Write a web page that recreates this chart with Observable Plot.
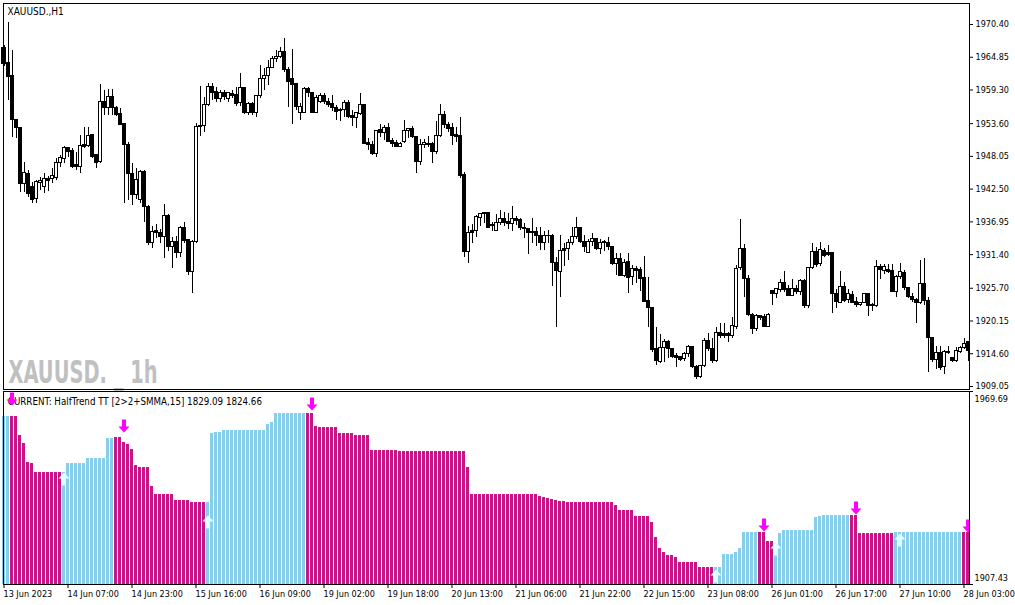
<!DOCTYPE html>
<html>
<head>
<meta charset="utf-8">
<script src="https://cdn.jsdelivr.net/npm/d3@7"></script>
<script src="https://cdn.jsdelivr.net/npm/@observablehq/plot@0.6"></script>
<style>
  html, body { margin: 0; padding: 0; background: #ffffff; }
  #chart svg { display: block; }
</style>
</head>
<body>
<div id="chart"></div>
<script>
// ---------- DATA ----------
const symbolTitle = "XAUUSD.,H1";
const watermark = "XAUUSD. _ 1h";
const indicatorTitle = "CURRENT: HalfTrend TT [2>2+SMMA,15] 1829.09 1824.66";

const timeLabels = ["13 Jun 2023","14 Jun 07:00","14 Jun 23:00","15 Jun 16:00","16 Jun 09:00","19 Jun 02:00",
  "19 Jun 18:00","20 Jun 13:00","21 Jun 06:00","21 Jun 22:00","22 Jun 15:00","23 Jun 08:00",
  "26 Jun 01:00","26 Jun 17:00","27 Jun 10:00","28 Jun 03:00"];
const timeLabelBars = [0,16,32,48,64,80,96,112,128,144,160,176,192,208,224,240];

const priceTicks = [1970.40,1964.85,1959.30,1953.60,1948.05,1942.50,1936.95,1931.40,1925.70,1920.15,1914.60,1909.05];
const indicatorTicks = [1907.43, 1969.69];

const barOpen = [
1966.34,1963.96,1961.59,1954.30,1952.78,1943.29,1944.98,1942.78,1940.75,1943.46,
1942.78,1944.14,1944.14,1944.47,1946.85,1947.53,1949.39,1948.88,1946.51,1946.17,
1949.90,1949.73,1951.59,1948.20,1947.02,1957.35,1956.17,1958.03,1956.17,1955.15,
1953.62,1950.06,1944.98,1941.42,1940.58,1945.32,1939.39,1933.29,1935.32,1934.98,
1934.31,1937.87,1932.61,1933.46,1931.59,1935.83,1933.80,1928.37,1933.46,1952.95,
1953.28,1956.68,1959.73,1958.88,1957.69,1958.71,1957.69,1958.54,1958.37,1957.02,
1959.56,1955.32,1956.85,1955.32,1958.20,1961.08,1961.59,1963.11,1964.47,1964.81,
1965.66,1962.61,1961.08,1960.40,1955.32,1955.32,1959.39,1958.71,1955.32,1957.35,
1958.20,1957.35,1956.85,1956.17,1955.99,1955.83,1957.18,1954.81,1954.47,1955.15,
1956.68,1950.40,1949.90,1948.37,1952.44,1951.93,1952.78,1950.74,1950.40,1949.56,
1950.57,1952.27,1952.61,1951.25,1947.02,1950.06,1950.23,1950.23,1948.71,1951.42,
1954.98,1953.45,1952.78,1951.59,1951.42,1944.81,1931.76,1935.32,1935.32,1937.53,
1938.20,1938.37,1936.34,1935.32,1936.68,1937.36,1936.85,1936.51,1937.36,1937.19,
1935.99,1935.66,1935.15,1935.15,1934.64,1933.29,1934.64,1934.64,1929.90,1928.37,
1932.27,1932.27,1933.29,1934.31,1935.99,1933.46,1931.59,1933.46,1933.97,1932.27,
1933.46,1933.29,1932.61,1929.73,1930.58,1927.86,1930.07,1927.53,1928.88,1928.71,
1927.36,1923.46,1922.27,1915.33,1913.12,1915.50,1916.51,1915.33,1914.14,1913.97,
1913.63,1914.48,1915.67,1912.27,1910.58,1912.44,1916.68,1915.33,1913.29,1918.04,
1917.87,1917.87,1917.53,1919.05,1929.05,1932.27,1927.19,1921.09,1918.72,1920.92,
1920.75,1919.05,1925.15,1924.81,1925.32,1926.51,1925.49,1924.47,1925.49,1924.98,
1926.85,1922.61,1929.05,1931.76,1929.73,1931.93,1931.59,1931.59,1924.81,1923.12,
1925.83,1923.63,1924.64,1923.29,1922.78,1923.12,1924.81,1922.78,1922.61,1929.22,
1928.54,1928.71,1928.54,1924.98,1927.53,1928.20,1925.66,1924.14,1923.63,1923.12,
1926.34,1923.46,1917.19,1913.46,1914.65,1912.27,1914.65,1913.80,1913.29,1914.82,
1915.50,1916.51];

const barHigh = [
1966.85,1970.74,1966.00,1954.30,1952.95,1947.02,1945.66,1943.63,1943.97,1944.47,
1945.15,1944.64,1946.00,1947.70,1948.20,1949.73,1949.56,1949.39,1948.71,1951.59,
1952.95,1952.95,1951.59,1948.20,1960.23,1959.22,1959.39,1959.39,1956.51,1956.17,
1953.62,1950.40,1946.85,1946.00,1945.66,1945.66,1939.73,1936.17,1936.51,1935.66,
1939.90,1938.20,1934.31,1934.48,1936.17,1936.85,1933.97,1933.80,1953.62,1959.90,
1958.03,1960.40,1960.40,1959.73,1959.22,1959.22,1958.88,1959.22,1959.73,1962.10,
1959.73,1957.18,1957.18,1958.37,1963.45,1962.95,1964.30,1964.98,1966.00,1966.51,
1968.03,1963.11,1966.17,1960.40,1957.02,1959.73,1959.73,1958.88,1958.37,1958.71,
1958.71,1957.86,1958.37,1956.68,1956.17,1957.52,1957.52,1955.83,1955.49,1958.71,
1956.85,1951.08,1950.57,1952.44,1953.45,1953.28,1953.62,1951.08,1950.74,1950.40,
1954.13,1952.78,1953.11,1951.42,1950.91,1950.91,1951.42,1950.40,1953.96,1956.85,
1955.66,1953.79,1953.62,1952.95,1954.64,1945.32,1936.17,1936.51,1938.03,1938.37,
1938.37,1938.37,1936.85,1938.20,1938.88,1938.54,1938.37,1939.56,1937.87,1937.53,
1936.68,1935.83,1937.53,1935.99,1935.99,1935.32,1935.49,1934.81,1930.92,1934.64,
1933.29,1933.97,1935.99,1937.70,1935.99,1934.64,1933.97,1934.98,1934.14,1933.97,
1933.80,1934.31,1932.61,1931.59,1931.59,1930.58,1931.59,1929.56,1929.39,1929.22,
1931.08,1927.53,1922.44,1919.05,1917.87,1917.02,1916.85,1915.50,1914.65,1913.97,
1914.82,1916.00,1915.84,1912.61,1912.61,1917.19,1918.04,1917.19,1919.05,1919.73,
1919.73,1918.21,1920.75,1929.56,1937.36,1933.12,1927.86,1921.43,1921.26,1920.92,
1921.26,1921.43,1925.15,1925.66,1927.19,1928.54,1926.17,1927.19,1926.17,1927.19,
1927.19,1929.22,1933.29,1932.61,1933.46,1932.44,1932.95,1931.76,1925.49,1928.54,
1926.68,1925.49,1925.15,1924.14,1923.29,1924.81,1924.81,1923.12,1930.41,1929.73,
1929.73,1929.73,1929.73,1927.86,1929.90,1928.71,1925.83,1924.81,1923.97,1930.41,
1930.75,1924.14,1917.36,1915.84,1915.84,1915.16,1915.84,1913.97,1915.67,1915.84,
1917.19,1916.68];

const barLow = [
1963.28,1957.52,1951.25,1951.08,1941.93,1941.93,1941.08,1940.07,1940.07,1942.27,
1941.76,1942.10,1943.46,1943.97,1946.17,1946.85,1947.87,1946.00,1945.66,1945.15,
1949.39,1949.56,1947.70,1946.00,1946.85,1954.98,1954.98,1954.98,1954.81,1953.28,
1940.07,1940.58,1939.73,1940.75,1940.07,1936.85,1932.95,1932.44,1934.14,1933.29,
1930.75,1931.93,1929.05,1930.75,1930.92,1933.29,1927.86,1924.81,1933.29,1951.42,
1952.10,1956.51,1957.52,1957.18,1957.18,1957.52,1957.18,1957.86,1956.51,1956.51,
1955.15,1954.98,1954.98,1954.64,1957.86,1959.22,1960.06,1962.95,1963.96,1964.64,
1962.27,1956.34,1953.45,1955.83,1954.13,1955.32,1958.03,1955.32,1955.32,1957.02,
1956.85,1956.34,1955.66,1954.13,1953.96,1954.64,1954.47,1953.11,1952.78,1954.98,
1950.06,1949.05,1948.20,1947.87,1951.25,1950.74,1950.40,1949.56,1949.56,1949.56,
1950.23,1951.08,1951.08,1945.15,1946.51,1949.39,1949.56,1946.85,1948.37,1951.25,
1952.78,1952.10,1949.90,1950.40,1944.30,1930.92,1929.90,1933.29,1934.31,1936.17,
1936.68,1935.99,1935.32,1935.32,1936.34,1936.17,1935.66,1935.32,1936.34,1935.49,
1934.14,1931.42,1933.29,1932.78,1932.10,1932.10,1933.29,1926.00,1919.05,1924.14,
1929.39,1930.41,1932.95,1933.97,1933.29,1931.76,1931.59,1932.78,1932.10,1931.42,
1931.93,1932.10,1929.56,1927.86,1927.69,1927.53,1924.81,1926.17,1926.51,1925.15,
1923.29,1919.05,1914.82,1912.61,1912.95,1913.12,1913.80,1913.80,1912.27,1913.29,
1913.29,1913.97,1912.10,1910.24,1910.41,1912.27,1914.99,1912.95,1913.12,1917.19,
1917.19,1916.51,1917.19,1918.72,1928.71,1924.14,1920.92,1917.87,1918.38,1920.24,
1919.05,1919.05,1922.78,1923.97,1924.98,1924.98,1924.30,1924.30,1924.64,1924.47,
1922.27,1922.27,1928.88,1929.22,1929.39,1930.92,1931.08,1921.43,1922.27,1923.12,
1923.29,1923.12,1923.12,1922.44,1922.61,1923.12,1920.92,1921.77,1922.44,1927.19,
1928.03,1928.20,1924.98,1924.14,1927.19,1925.32,1923.97,1923.29,1919.73,1922.95,
1922.78,1911.43,1913.12,1911.94,1911.77,1911.09,1914.48,1913.12,1913.12,1914.65,
1915.33,1913.29];

const barClose = [
1963.79,1961.42,1954.30,1952.78,1943.29,1945.15,1941.59,1940.58,1943.63,1943.80,
1944.14,1943.80,1944.64,1946.85,1947.70,1949.39,1948.71,1946.17,1946.17,1949.73,
1949.56,1951.42,1947.87,1946.85,1957.35,1956.17,1958.03,1956.17,1954.98,1953.45,
1950.06,1944.98,1941.42,1943.97,1945.32,1939.39,1933.29,1935.15,1934.98,1934.31,
1937.87,1932.61,1933.46,1931.59,1935.83,1933.63,1928.37,1933.46,1952.95,1953.28,
1956.68,1959.73,1958.71,1957.69,1958.71,1958.03,1958.71,1958.20,1956.85,1959.56,
1955.32,1956.85,1955.32,1958.20,1961.08,1961.59,1963.11,1964.47,1964.81,1965.66,
1962.61,1960.74,1960.23,1956.34,1956.34,1959.39,1958.71,1955.32,1957.86,1958.20,
1957.35,1956.68,1956.17,1955.49,1955.66,1957.18,1954.64,1954.47,1955.32,1956.68,
1950.23,1949.90,1948.37,1952.27,1951.93,1952.78,1950.57,1950.23,1949.56,1950.23,
1952.27,1952.61,1951.25,1947.02,1950.06,1950.40,1949.90,1948.71,1951.42,1954.98,
1953.45,1952.61,1951.42,1951.25,1944.64,1931.76,1934.98,1934.98,1937.70,1938.20,
1938.37,1935.99,1936.17,1936.68,1937.36,1936.68,1936.51,1937.36,1937.02,1935.99,
1935.66,1934.98,1934.98,1934.48,1933.29,1934.48,1934.48,1929.90,1928.54,1931.93,
1931.93,1933.29,1934.31,1935.99,1933.46,1932.61,1933.46,1933.97,1932.27,1933.29,
1933.29,1932.61,1929.73,1930.58,1927.86,1929.90,1927.36,1928.88,1928.54,1927.19,
1923.29,1922.27,1915.16,1913.29,1915.50,1916.51,1915.33,1913.97,1913.80,1913.46,
1914.48,1915.67,1912.27,1910.58,1912.44,1916.68,1915.33,1913.29,1918.04,1917.53,
1917.53,1917.53,1919.22,1928.88,1932.27,1927.19,1921.09,1918.72,1920.92,1920.58,
1919.05,1921.09,1924.81,1925.49,1926.51,1925.32,1924.47,1925.49,1924.98,1926.85,
1922.61,1929.05,1931.76,1929.56,1932.10,1931.25,1931.42,1924.81,1923.29,1925.83,
1923.46,1924.81,1923.12,1922.78,1923.12,1924.81,1922.61,1922.61,1929.22,1928.71,
1929.22,1928.37,1924.98,1927.53,1928.37,1925.66,1924.14,1923.63,1923.12,1926.34,
1923.46,1917.19,1913.46,1914.65,1912.10,1914.82,1914.82,1913.29,1914.99,1915.50,
1916.17,1914.99];

// HalfTrend histogram value per bar
const halfTrend = [
1961.62,1961.62,1961.62,1961.62,1955.50,1953.01,1946.88,1946.56,1943.56,1943.56,
1943.56,1943.56,1943.56,1943.56,1943.56,1943.56,1946.46,1946.46,1946.46,1946.46,
1946.46,1948.17,1948.17,1948.17,1948.17,1948.17,1954.63,1954.63,1954.95,1954.95,
1953.33,1952.59,1950.98,1945.82,1945.17,1945.17,1945.17,1939.04,1936.46,1936.46,
1936.46,1936.46,1936.46,1934.53,1934.53,1934.53,1934.53,1933.88,1933.88,1933.88,
1933.88,1933.88,1956.24,1956.46,1956.46,1957.11,1957.11,1957.11,1957.11,1957.11,
1957.11,1957.11,1957.11,1957.11,1957.11,1957.11,1958.95,1959.69,1962.59,1962.59,
1962.59,1962.59,1962.59,1962.59,1962.59,1962.59,1962.59,1962.59,1958.40,1958.08,
1958.08,1958.08,1958.08,1958.08,1956.24,1956.24,1956.24,1956.24,1955.50,1955.50,
1955.50,1955.50,1950.66,1950.66,1950.66,1950.66,1950.66,1950.66,1950.66,1950.33,
1950.33,1950.33,1950.33,1950.33,1950.33,1950.33,1950.33,1950.33,1950.33,1950.33,
1950.33,1950.33,1950.33,1950.33,1950.33,1950.33,1945.27,1936.46,1936.46,1936.46,
1936.46,1936.46,1936.46,1936.46,1936.46,1936.46,1936.46,1936.46,1936.46,1936.46,
1936.46,1936.46,1936.46,1936.46,1935.82,1935.50,1935.27,1934.95,1934.53,1934.30,
1934.05,1933.88,1933.88,1933.88,1933.88,1933.88,1933.88,1933.88,1933.88,1933.88,
1933.88,1933.88,1933.88,1932.91,1931.30,1931.30,1931.30,1931.30,1929.37,1929.37,
1929.37,1929.37,1927.53,1922.69,1919.04,1917.85,1916.79,1916.79,1916.14,1914.53,
1914.53,1914.53,1914.53,1914.53,1912.91,1912.91,1912.91,1912.91,1912.91,1912.91,
1917.11,1917.11,1917.11,1917.75,1919.04,1924.20,1924.20,1924.20,1924.20,1924.20,
1924.20,1921.40,1921.40,1920.01,1923.97,1924.85,1924.85,1924.85,1924.85,1924.85,
1924.85,1924.85,1924.85,1929.04,1929.37,1929.79,1929.79,1929.79,1929.79,1929.79,
1929.79,1929.79,1929.79,1929.79,1923.88,1923.88,1923.88,1923.88,1923.88,1923.88,
1923.88,1923.88,1923.88,1924.20,1924.20,1924.20,1924.20,1924.20,1924.20,1924.20,
1924.20,1924.20,1924.20,1924.20,1924.20,1924.20,1924.20,1924.20,1924.20,1924.20,
1924.20,1924.20];

// 1 = down trend (magenta), 0 = up trend (sky blue)
const trendDown = [
0,0,1,1,1,1,1,1,1,1, 1,1,1,1,1,0,0,0,0,0, 0,0,0,0,0,0,0,0,1,1,
1,1,1,1,1,1,1,1,1,1, 1,1,1,1,1,1,1,1,1,1, 1,0,0,0,0,0,0,0,0,0,
0,0,0,0,0,0,0,0,0,0, 0,0,0,0,0,0,1,1,1,1, 1,1,1,1,1,1,1,1,1,1,
1,1,1,1,1,1,1,1,1,1, 1,1,1,1,1,1,1,1,1,1, 1,1,1,1,1,1,1,1,1,1,
1,1,1,1,1,1,1,1,1,1, 1,1,1,1,1,1,1,1,1,1, 1,1,1,1,1,1,1,1,1,1,
1,1,1,1,1,1,1,1,1,1, 1,1,1,1,1,1,1,1,1,1, 1,1,1,1,1,1,1,1,0,0,
0,0,0,0,0,0,0,0,0,1, 1,1,1,0,0,0,0,0,0,0, 0,0,0,0,0,0,0,0,0,0,
0,0,1,1,1,1,1,1,1,1, 1,1,1,0,0,0,0,0,0,0, 0,0,0,0,0,0,0,0,0,0,
1,1];

const downArrowBars = [2, 30, 77, 190, 213, 241];
const downArrowTips = [1965.17, 1956.46, 1963.56, 1924.53, 1930.01, 1924.20];
const upArrowBars = [15, 51, 178, 193, 224];
const upArrowTips = [1943.56, 1929.69, 1912.27, 1920.98, 1923.88];

// ---------- TABLES ----------
const candles = barOpen.map((o, i) => ({i, open: o, high: barHigh[i], low: barLow[i], close: barClose[i]}));
const histBars = halfTrend.map((v, i) => ({i, v, down: trendDown[i] === 1}));
const downArrows = downArrowBars.map((b, k) => ({i: b, v: downArrowTips[k]}));
const upArrows = upArrowBars.map((b, k) => ({i: b, v: upArrowTips[k]}));
const axisLabels = timeLabelBars.map((b, k) => ({i: b, t: timeLabels[k]}));

// ---------- STYLE ----------
const FONT = "'DejaVu Sans Condensed','DejaVu Sans',sans-serif";
const svgStyle = `background:#ffffff;color:#000000;font-family:${FONT};font-size:9px;font-stretch:condensed;overflow:visible;`;
const PINK = "#C71585", SKY = "#87CEEB", MAGENTA = "#FF00FF", CYANWHITE = "#E0FFFF";
const xDomain = [-0.125, 241.375];
const halfW = 0.375;

const downArrowSymbol = {draw(ctx) {
  ctx.moveTo(0, 0); ctx.lineTo(-5.5, -6); ctx.lineTo(-2, -6); ctx.lineTo(-2, -13);
  ctx.lineTo(2, -13); ctx.lineTo(2, -6); ctx.lineTo(5.5, -6); ctx.closePath();
}};
const upArrowSymbol = {draw(ctx) {
  ctx.moveTo(0, 0); ctx.lineTo(-5.5, 6); ctx.lineTo(-2, 6); ctx.lineTo(-2, 13);
  ctx.lineTo(2, 13); ctx.lineTo(2, 6); ctx.lineTo(5.5, 6); ctx.closePath();
}};

// ---------- PRICE PANEL ----------
const pricePanel = Plot.plot({
  width: 1015, height: 390,
  marginTop: 3, marginBottom: 1, marginLeft: 3, marginRight: 46,
  style: svgStyle,
  x: {domain: xDomain, axis: null},
  y: {domain: [1908.54, 1973.96], axis: "right", ticks: priceTicks, tickFormat: d => d.toFixed(2),
      tickSize: 3, tickPadding: 3, label: null},
  marks: [
    Plot.text([watermark], {text: d => d, frameAnchor: "bottom-left", dx: 5, dy: -7,
      lineAnchor: "bottom", textAnchor: "start", fill: "#c0c0c0", fontSize: 32, fontWeight: "bold",
      fontFamily: "'Liberation Sans Narrow','DejaVu Sans Condensed',sans-serif"}),
    Plot.ruleX(candles, {x: "i", y1: "low", y2: "high", stroke: "#000", strokeWidth: 1, shapeRendering: "crispEdges"}),
    Plot.rect(candles.filter(d => d.close >= d.open), {x1: d => d.i - halfW, x2: d => d.i + halfW,
      y1: "open", y2: "close", fill: "#fff", stroke: "#000", strokeWidth: 1, shapeRendering: "crispEdges"}),
    Plot.rect(candles.filter(d => d.close < d.open), {x1: d => d.i - halfW, x2: d => d.i + halfW,
      y1: "open", y2: "close", fill: "#000", stroke: "#000", strokeWidth: 1, shapeRendering: "crispEdges"}),
    Plot.frame({stroke: "#000", strokeWidth: 1, shapeRendering: "crispEdges"}),
    Plot.text([symbolTitle], {text: d => d, frameAnchor: "top-left", dx: 4, dy: 4.5,
      lineAnchor: "top", textAnchor: "start", fill: "#000", fontSize: 10})
  ]
});

// ---------- INDICATOR PANEL ----------
const indicatorPanel = Plot.plot({
  width: 1015, height: 215,
  marginTop: 1, marginBottom: 21, marginLeft: 3, marginRight: 46,
  style: svgStyle,
  x: {domain: xDomain, axis: "bottom", ticks: timeLabelBars, tickFormat: () => "", tickSize: 4, label: null},
  y: {domain: [1907.43, 1969.69], axis: "right", ticks: indicatorTicks, tickFormat: () => "", tickSize: 3, label: null},
  marks: [
    Plot.rect(histBars.filter(d => !d.down), {x1: d => d.i - halfW, x2: d => d.i + halfW,
      y1: indicatorTicks[0], y2: "v", fill: SKY, shapeRendering: "crispEdges"}),
    Plot.rect(histBars.filter(d => d.down), {x1: d => d.i - halfW, x2: d => d.i + halfW,
      y1: indicatorTicks[0], y2: "v", fill: PINK, shapeRendering: "crispEdges"}),
    Plot.frame({stroke: "#000", strokeWidth: 1, shapeRendering: "crispEdges"}),
    Plot.text([indicatorTitle], {text: d => d, frameAnchor: "top-left", dx: 4.3, dy: 6.3,
      lineAnchor: "top", textAnchor: "start", fill: "#000", fontSize: 9.7}),
    Plot.dot(upArrows, {x: "i", y: "v", symbol: upArrowSymbol, fill: CYANWHITE, stroke: "none", clip: true}),
    Plot.dot(downArrows, {x: "i", y: "v", symbol: downArrowSymbol, fill: MAGENTA, stroke: "none", clip: true}),
    Plot.text(axisLabels, {x: "i", text: "t", frameAnchor: "bottom", dy: 6.6, dx: -0.5,
      lineAnchor: "top", textAnchor: "start", fill: "#000"}),
    Plot.text([indicatorTicks[1]], {y: d => d, text: d => d.toFixed(2), frameAnchor: "right",
      dx: 5, dy: 8, textAnchor: "start", fill: "#000"}),
    Plot.text([indicatorTicks[0]], {y: d => d, text: d => d.toFixed(2), frameAnchor: "right",
      dx: 5, dy: -6.3, textAnchor: "start", fill: "#000"})
  ]
});

const chart = document.getElementById("chart");
chart.appendChild(pricePanel);
chart.appendChild(indicatorPanel);

// stretch the watermark to its measured width
for (const t of pricePanel.querySelectorAll("text")) {
  if (t.textContent === watermark) {
    t.setAttribute("textLength", "149");
    t.setAttribute("lengthAdjust", "spacingAndGlyphs");
  }
}
</script>
</body>
</html>
